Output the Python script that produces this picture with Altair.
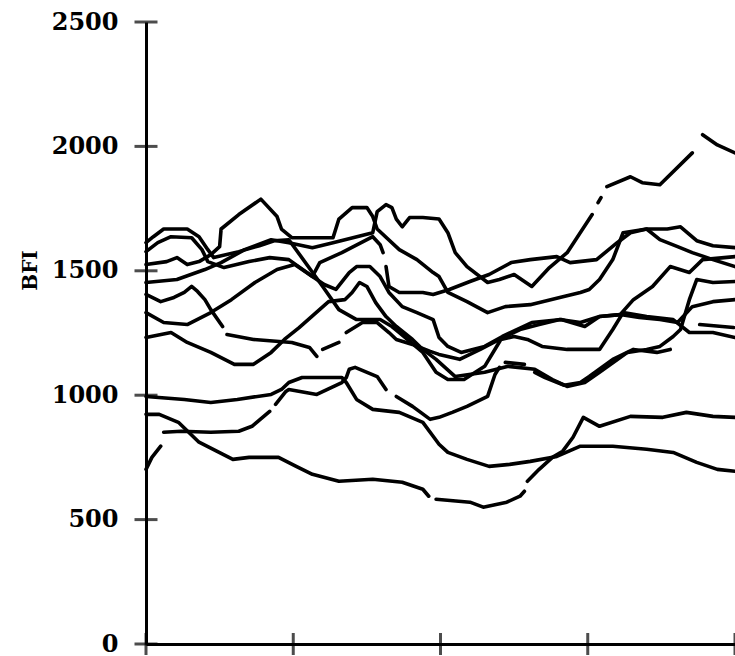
import altair as alt
import pandas as pd

# Each series: x (unlabelled time axis, 0-4) and BFI values; None marks a gap in the trace
A_x = [0, 0.21, 0.40, 0.51, 0.67, 0.85, 0.97, 1.13, 1.27, 1.54, 1.57, 1.63, 1.67, 1.70, 1.74, 1.79, 1.88, 1.99, 2.05, 2.10, 2.18, 2.32, 2.40, 2.50, 2.62, 2.74, 2.86, 3.03, 3.05, 3.07, 3.09, 3.11, 3.13, 3.29, 3.37, 3.49, 3.71, 3.75, 3.78, 3.88, 4.0]
A_y = [1453, 1465, 1505, 1533, 1585, 1625, 1613, 1593, 1613, 1653, 1738, 1766, 1754, 1708, 1677, 1714, 1714, 1708, 1653, 1573, 1517, 1453, 1465, 1485, 1437, 1513, 1573, 1726, None, 1774, 1794, None, 1838, 1878, 1854, 1846, 1974, None, 2047, 2006, 1974]

B_x = [0, 0.14, 0.21, 0.28, 0.36, 0.44, 0.50, 0.51, 0.63, 0.78, 0.89, 0.92, 0.99, 1.27, 1.31, 1.40, 1.50, 1.54, 1.57, 1.72, 1.84, 1.95, 1.99, 2.05, 2.18, 2.32, 2.44, 2.61, 2.81, 2.95, 3.01, 3.08, 3.17, 3.24, 3.40, 3.49, 3.61, 3.71, 3.85, 4.0]
B_y = [1525, 1537, 1553, 1525, 1537, 1565, 1597, 1668, 1726, 1788, 1718, 1668, 1633, 1633, 1708, 1754, 1754, 1718, 1668, 1585, 1545, 1493, 1477, 1413, 1376, 1332, 1356, 1364, 1393, 1413, 1425, 1465, 1545, 1653, 1668, 1625, 1597, 1573, 1545, 1517]

C_x = [0, 0.05, 0.12, 0.28, 0.36, 0.42, 0.46, 0.63, 0.77, 0.87, 0.97, 1.20, 1.31, 1.43, 1.59, 1.67, 1.72, 1.88, 1.97, 2.05, 2.16, 2.30, 2.41, 2.50, 2.59, 2.69, 2.86, 2.98, 3.08, 3.17, 3.24, 3.40, 3.58, 3.69, 3.85, 4.0]
C_y = [1613, 1637, 1668, 1668, 1637, 1585, 1553, 1577, 1601, 1621, 1625, 1437, 1344, 1304, 1304, 1276, 1252, 1172, 1092, 1063, 1063, 1116, 1224, 1236, 1224, 1196, 1184, 1184, 1184, 1264, 1332, 1316, 1304, 1252, 1252, 1232]

D_x = [0, 0.08, 0.17, 0.31, 0.38, 0.42, 0.53, 0.70, 0.84, 0.97, 1.13, 1.21, 1.29, 1.38, 1.43, 1.52, 1.59, 1.65, 1.74, 1.84, 1.95, 1.99, 2.05, 2.14, 2.30, 2.42, 2.62, 2.82, 2.98, 3.08, 3.22, 3.31, 3.44, 3.56, 3.69, 3.78, 4.0]
D_y = [1577, 1613, 1637, 1633, 1585, 1537, 1513, 1537, 1553, 1545, 1477, 1445, 1425, 1493, 1517, 1517, 1477, 1413, 1356, 1332, 1304, 1232, 1196, 1172, 1196, 1236, 1292, 1304, 1276, 1316, 1324, 1384, 1437, 1517, 1493, 1545, 1557]

E_x = [0, 0.12, 0.28, 0.44, 0.58, 0.74, 0.89, 1.01, 1.13, 1.18, 1.33, 1.54, 1.59, 1.61, 1.62, 1.63, 1.65, 1.72, 1.88, 1.95, 2.06, 2.20, 2.33, 2.48, 2.61, 2.79, 2.88, 3.06, 3.20, 3.29, 3.40, 3.54, 3.63, 3.74, 3.85, 4.0]
E_y = [1332, 1292, 1284, 1332, 1384, 1453, 1505, 1525, 1477, 1533, 1573, 1637, 1605, 1573, None, 1517, 1437, 1413, 1413, 1405, 1425, 1457, 1485, 1533, 1545, 1557, 1533, 1545, 1613, 1653, 1668, 1668, 1677, 1621, 1601, 1593]

F_x = [0, 0.17, 0.28, 0.44, 0.60, 0.73, 0.85, 0.94, 1.04, 1.14, 1.24, 1.35, 1.40, 1.45, 1.50, 1.56, 1.63, 1.70, 1.81, 1.88, 1.97, 2.10, 2.30, 2.46, 2.64, 2.76, 2.86, 2.98, 3.08, 3.27, 3.40, 3.49, 3.58, 3.63, 3.69, 3.74, 3.85, 4.0]
F_y = [1232, 1252, 1212, 1172, 1124, 1124, 1172, 1224, 1272, 1324, 1376, 1384, 1413, 1453, 1437, 1372, 1316, 1276, 1224, 1184, 1144, 1075, 1092, 1116, 1104, 1063, 1035, 1051, 1092, 1172, 1184, 1196, 1236, 1264, 1384, 1465, 1453, 1457]

G_x = [0, 0.10, 0.19, 0.26, 0.31, 0.35, 0.40, 0.44, 0.52, 0.53, 0.55, 0.73, 0.99, 1.11, 1.16, 1.18, 1.20, 1.31, 1.33, 1.36, 1.47, 1.57, 1.65, 1.70, 1.81, 1.93, 1.99, 2.13, 2.27, 2.40, 2.54, 2.67, 2.81, 2.95, 3.08, 3.22, 3.35, 3.49, 3.61, 3.71, 3.85, 4.0]
G_y = [1405, 1376, 1393, 1413, 1437, 1417, 1384, 1344, 1276, None, 1244, 1224, 1212, 1192, 1156, None, 1184, 1212, None, 1252, 1292, 1292, 1252, 1224, 1204, 1176, 1164, 1144, 1184, 1224, 1264, 1284, 1304, 1292, 1316, 1324, 1312, 1304, 1292, 1356, 1376, 1384]

J_x = [0, 0.26, 0.44, 0.62, 0.85, 0.92, 0.97, 1.06, 1.33, 1.36, 1.43, 1.54, 1.72, 1.88, 1.95, 1.99, 2.05, 2.18, 2.33, 2.47, 2.61, 2.79, 2.95, 3.17, 3.40, 3.58, 3.74, 3.88, 4.0]
J_y = [995, 983, 971, 983, 1003, 1023, 1051, 1071, 1071, 1051, 983, 943, 931, 891, 835, 803, 770, 742, 714, 722, 734, 754, 795, 795, 783, 770, 730, 702, 694]

K_x = [0, 0.09, 0.22, 0.29, 0.36, 0.48, 0.59, 0.70, 0.90, 1.02, 1.13, 1.31, 1.54, 1.74, 1.88, 1.92, 1.94, 1.97, 2.20, 2.29, 2.45, 2.54, 2.57, 2.58, 2.59, 2.67, 2.76, 2.83, 2.90, 2.97, 3.08, 3.29, 3.51, 3.67, 3.85, 4.0]
K_y = [923, 923, 891, 851, 811, 775, 742, 750, 750, 714, 682, 654, 662, 650, 622, 594, None, 582, 570, 550, 570, 594, 614, None, 654, 702, 750, 775, 831, 911, 875, 915, 911, 931, 915, 911]

L_x = [0, 0.04, 0.10, 0.11, 0.12, 0.24, 0.44, 0.63, 0.72, 0.84, 0.86, 0.88, 0.95, 0.97, 1.16, 1.33, 1.36, 1.38, 1.42, 1.57, 1.63, 1.66, 1.70, 1.81, 1.93, 1.99, 2.08, 2.18, 2.32, 2.37, 2.40, 2.42, 2.44, 2.57, 2.60, 2.64, 2.71, 2.84, 2.95, 3.01, 3.17, 3.31, 3.47, 3.56, 3.66, 3.76, 3.99]
L_y = [702, 750, 795, None, 851, 855, 851, 855, 875, 935, None, 963, 1015, 1023, 1003, 1051, 1071, 1104, 1112, 1075, 1023, None, 995, 955, 903, 911, 931, 955, 995, 1083, 1112, None, 1132, 1124, None, 1092, 1071, 1040, 1051, 1075, 1144, 1184, 1172, 1184, None, 1284, 1272]

series = {"A": (A_x, A_y), "B": (B_x, B_y), "C": (C_x, C_y), "D": (D_x, D_y),
          "E": (E_x, E_y), "F": (F_x, F_y), "G": (G_x, G_y), "J": (J_x, J_y),
          "K": (K_x, K_y), "L": (L_x, L_y)}

y_ticks = [0, 500, 1000, 1500, 2000, 2500]
x_ticks = [0, 1, 2, 3, 4]

rows = []
for name, (xs, ys) in series.items():
    for i, (xv, yv) in enumerate(zip(xs, ys)):
        rows.append({"s": name, "i": i, "t": xv, "bfi": yv})
df = pd.DataFrame(rows)

xs_scale = alt.Scale(domain=[0, 4], nice=False, zero=False)
ys_scale = alt.Scale(domain=[0, 2500], nice=False)

FONT = "DejaVu Serif"

lines = alt.Chart(df).mark_line(
    color="black", strokeWidth=3.6, strokeJoin="round", strokeCap="round"
).encode(
    x=alt.X("t:Q", scale=xs_scale,
            axis=alt.Axis(labels=False, ticks=False, grid=False, title=None,
                          domainColor="black", domainWidth=3)),
    y=alt.Y("bfi:Q", scale=ys_scale,
            axis=alt.Axis(values=y_ticks, format="d", ticks=False, grid=False, title="BFI",
                          labelFont=FONT, labelFontWeight="bold", labelFontSize=24,
                          labelColor="black", labelPadding=28,
                          titleFont=FONT, titleFontWeight="bold", titleFontSize=20,
                          titleColor="black", titleX=-116, titleY=248,
                          titleAngle=270, titleAlign="center", titleBaseline="middle",
                          domainColor="black", domainWidth=3)),
    detail="s:N",
    order="i:Q",
)

ytick_df = pd.DataFrame({"v": y_ticks})
xtick_df = pd.DataFrame({"v": x_ticks})

yt = alt.Chart(ytick_df).mark_tick(
    color="black", orient="horizontal", size=23, thickness=3
).encode(y=alt.Y("v:Q", scale=ys_scale), x=alt.datum(0, scale=xs_scale))

xt = alt.Chart(xtick_df).mark_tick(
    color="black", orient="vertical", size=22, thickness=3
).encode(x=alt.X("v:Q", scale=xs_scale), y=alt.datum(0, scale=ys_scale))

chart = alt.layer(lines, yt, xt).properties(
    width=589, height=622,
    autosize=alt.AutoSizeParams(type="none"),
    padding={"left": 146, "top": 22, "right": 0, "bottom": 12},
    background="white",
).configure_view(stroke=None)

chart.save("out.html", embed_options={"renderer": "svg", "actions": False})
